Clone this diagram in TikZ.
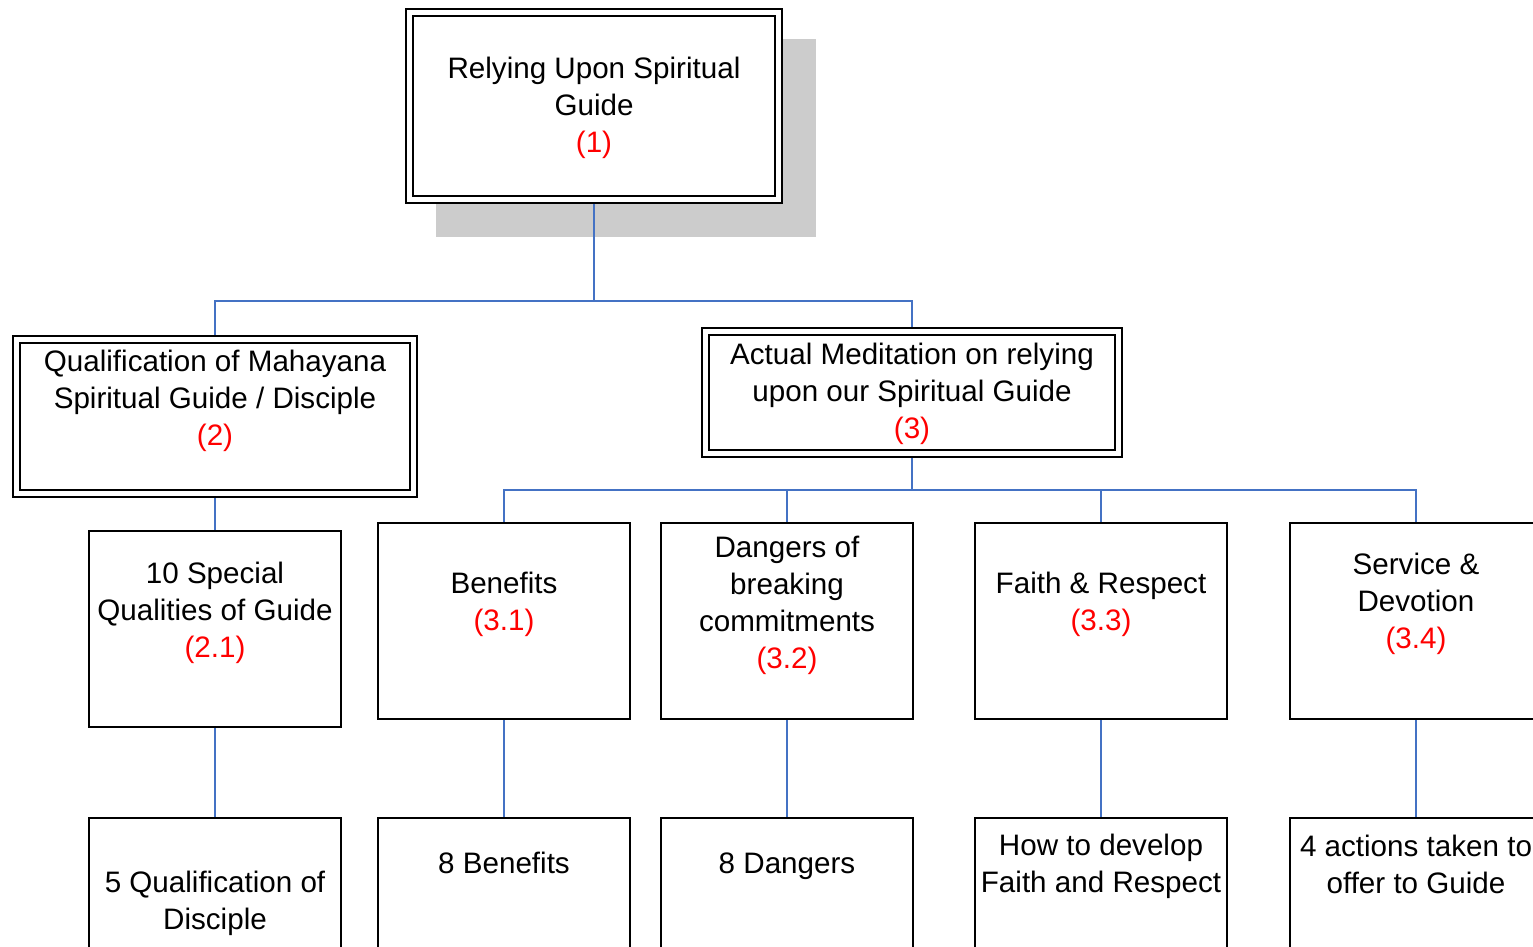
\documentclass[tikz,border=0pt]{standalone}
\usepackage{fontspec}
\setmainfont{Liberation Sans}
\usetikzlibrary{backgrounds}
\definecolor{linkblue}{RGB}{68,114,196}
\definecolor{shadowgray}{RGB}{204,204,204}
\newcommand{\secno}[1]{\textcolor{red}{#1}}
\tikzset{
    boxd/.style={draw, fill=white, line width=2.4pt, double=white,
        double distance=4.2pt, inner sep=0pt, outer sep=0pt},
    box/.style={draw, fill=white, line width=2.6pt, inner sep=0pt,
        outer sep=0pt, minimum width=252pt, minimum height=196pt},
    txt/.style={align=center, inner sep=0pt,
        font=\fontsize{29.6}{37}\selectfont},
    link/.style={draw=linkblue, line width=2.2pt}
}

\begin{document}
\begin{tikzpicture}[x=1pt, y=-1pt]
                    \useasboundingbox (0,0) rectangle (1533,947);

                    \node [boxd, minimum width=369pt, minimum height=187pt] (guide) at (594,106) {};
                    \node [boxd, minimum width=397pt, minimum height=154pt] (qual) at (215,416.5) {};
                    \node [boxd, minimum width=413pt, minimum height=122pt] (medit) at (912,392.5) {};
                    \node [box] (special) at (215,629) {};
                    \node [box] (disciple) at (215,916) {};

                    \foreach \x/\nm in {504/benefit, 787/danger, 1101/faith, 1416/service}
                    {
                        \node [box] (\nm) at (\x,621) {};
                        \node [box] (\nm-sub) at (\x,916) {};
                    }

                    \node [txt] (guide-t) at (594,107.5) {Relying Upon Spiritual\\Guide\\\secno{(1)}};
                    \node [txt] (qual-t) at (215,400.5) {Qualification of Mahayana\\Spiritual Guide / Disciple\\\secno{(2)}};
                    \node [txt] (medit-t) at (912,394) {Actual Meditation on relying\\upon our Spiritual Guide\\\secno{(3)}};
                    \node [txt] (special-t) at (215,612.5) {10 Special\\Qualities of Guide\\\secno{(2.1)}};
                    \node [txt] (benefit-t) at (504,604.5) {Benefits\\\secno{(3.1)}};
                    \node [txt] (danger-t) at (787,605) {Dangers of\\breaking\\commitments\\\secno{(3.2)}};
                    \node [txt] (faith-t) at (1101,604.5) {Faith \& Respect\\\secno{(3.3)}};
                    \node [txt] (service-t) at (1416,604) {Service \&\\Devotion\\\secno{(3.4)}};

                    \node [txt] (disciple-t) at (215,903.5) {5 Qualification of\\Disciple};
                    \node [txt] (benefit-sub-t) at (504,863) {8 Benefits};
                    \node [txt] (danger-sub-t) at (787,866) {8 Dangers};
                    \node [txt] (faith-sub-t) at (1101,866.5) {How to develop\\Faith and Respect};
                    \node [txt] (service-sub-t) at (1416,864.5) {4 actions taken to\\offer to Guide};

                    \begin{scope}[on background layer]
                        \fill [shadowgray] ([shift={(26.5,26.5)}]guide.north west)
                            rectangle ([shift={(37.5,37.5)}]guide.south east);
                        \draw [link] (guide.south) -- ++(0,101.5) -| (qual.north);
                        \draw [link] (guide.south) -- ++(0,101.5) -| (medit.north);
                        \draw [link] (qual.south) -- (special.north);
                        \draw [link] (special.south) -- (disciple.north);
                        \foreach \nm in {benefit, danger, faith, service}
                        {
                            \draw [link] (medit.south) -- ++(0,36.5) -| (\nm.north);
                            \draw [link] (\nm.south) -- (\nm-sub.north);
                        }
                    \end{scope}
\end{tikzpicture}
\end{document}
